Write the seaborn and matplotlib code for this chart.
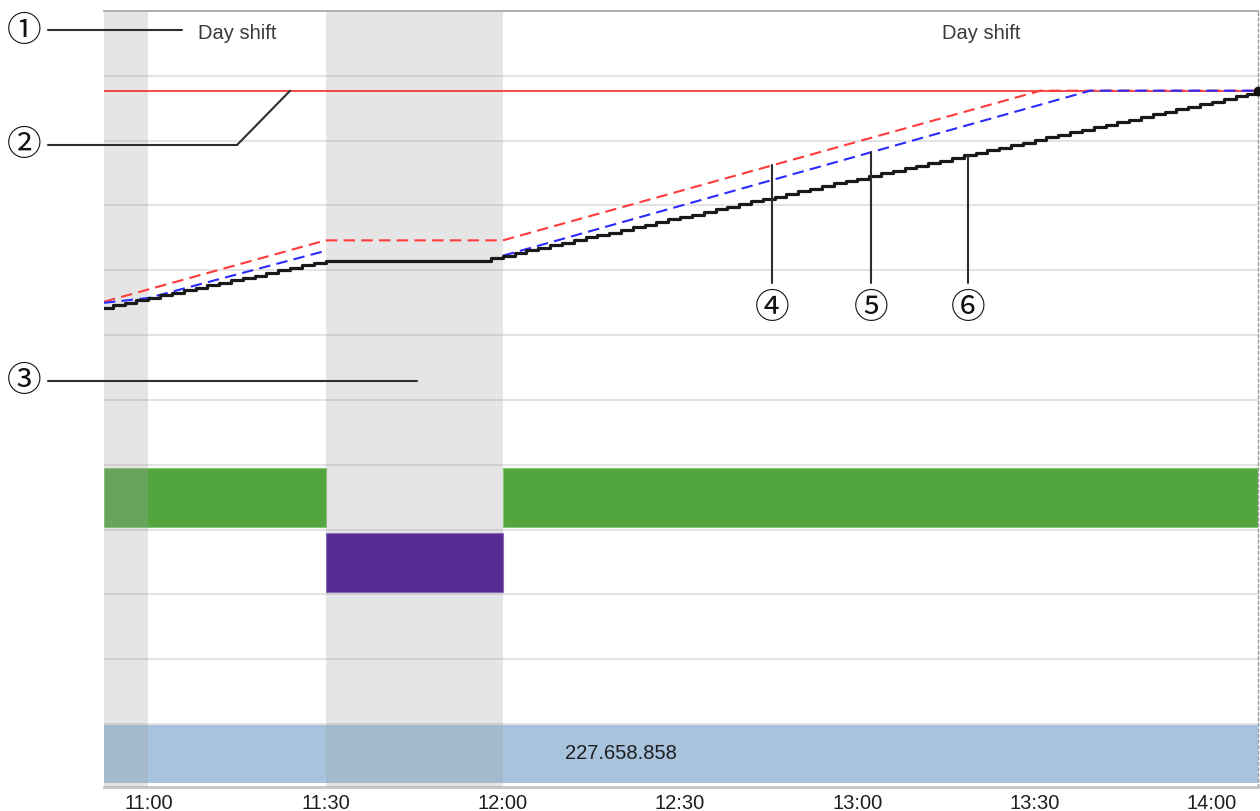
import numpy as np
import pandas as pd
import matplotlib
matplotlib.use("Agg")
import matplotlib.pyplot as plt
import matplotlib.dates as mdates
from matplotlib.lines import Line2D
import seaborn as sns

sns.set_theme(style="white")
plt.rcParams["font.family"] = ["Liberation Sans", "DejaVu Sans"]

DAY = "2024-01-01 "


def t(hms):
    return mdates.date2num(pd.Timestamp(DAY + hms))


# ---- data -------------------------------------------------------------
view_start, view_end = "10:52:30", "14:07:48"

shift_labels = ["Day shift", "Day shift"]
shift_label_times = ["11:15", "13:21"]

break_windows = [("10:52:30", "11:00"), ("11:30", "12:00")]
running_periods = [("10:52:30", "11:30"), ("12:00", "14:07:48")]
stop_periods = [("11:30", "12:00")]

counter_text = "227.658.858"
counter_text_time = "12:20"

target_value = 100.0

# cumulative quantity (% of target), sampled every 2 minutes
actual_values = [
    42.0, 42.6, 43.3, 44.0, 44.6, 45.3, 46.0, 46.6, 47.3, 48.0,
    48.6, 49.3, 50.0, 50.6, 51.3, 52.0, 52.6, 53.3, 54.0, 54.6,
    54.6, 54.6, 54.6, 54.6, 54.6, 54.6, 54.6, 54.6, 54.6, 54.6,
    54.6, 54.6, 54.6, 55.2,
    55.9, 56.6, 57.3, 58.0, 58.7, 59.4, 60.1, 60.8, 61.4, 62.1,
    62.8, 63.5, 64.2, 64.9, 65.6, 66.2, 66.9, 67.6, 68.3, 69.0,
    69.7, 70.4, 71.0, 71.7, 72.4, 73.1, 73.8, 74.5, 75.2, 75.8,
    76.5, 77.2, 77.9, 78.6, 79.3, 80.0, 80.6, 81.3, 82.0, 82.7,
    83.4, 84.1, 84.8, 85.4, 86.1, 86.8, 87.5, 88.2, 88.9, 89.6,
    90.2, 90.9, 91.6, 92.3, 93.0, 93.7, 94.4, 95.0, 95.7, 96.4,
    97.1, 97.8, 98.5, 99.2,
]
actual_first_time = "10:52"
actual_end_time = "14:07:45"
actual_end_value = 100.0

plan_times = ["10:52:30", "11:30", "12:00", "13:31", "14:07:48"]
plan_values = [43.6, 60.0, 60.0, 100.0, 100.0]

forecast_times_a = ["10:52:30", "11:00", "11:30"]
forecast_values_a = [43.3, 44.6, 57.2]
forecast_times_b = ["12:00", "13:39:24", "14:07:48"]
forecast_values_b = [55.9, 100.0, 100.0]

marker_times = {"④": "12:45:36", "⑤": "13:02:20", "⑥": "13:18:45"}

# ---- derived tables ---------------------------------------------------
sample_times = pd.date_range(DAY + actual_first_time, periods=len(actual_values), freq="2min")
actual = pd.DataFrame({
    "time": list(mdates.date2num(sample_times)) + [t(actual_end_time)],
    "value": actual_values + [actual_end_value],
})
plan = pd.DataFrame({"time": [t(s) for s in plan_times], "value": plan_values})
forecast = pd.DataFrame({
    "time": [t(s) for s in forecast_times_a + forecast_times_b],
    "value": forecast_values_a + forecast_values_b,
    "segment": ["a"] * len(forecast_times_a) + ["b"] * len(forecast_times_b),
})

# ---- figure -----------------------------------------------------------
W, H = 1260, 811
fig = plt.figure(figsize=(W / 100, H / 100), dpi=100)
ax = fig.add_axes([104 / W, 1 - 787 / H, (1258 - 104) / W, (787 - 11) / H])
ax.set_facecolor("white")
ax.set_xlim(t(view_start), t(view_end))
ax.set_ylim(0.03, 12.0)

# row grid
ax.set_yticks(range(1, 12))
ax.tick_params(axis="y", length=0, labelleft=False)
ax.yaxis.grid(True, color="#e1e1e1", lw=1.3)
ax.xaxis.grid(False)
ax.set_axisbelow(True)

# status rows
for s, e in running_periods:
    ax.barh(4.5, t(e) - t(s), left=t(s), height=0.91, color="#52a53f",
            edgecolor="#86c476", lw=0.8, zorder=2)
for s, e in stop_periods:
    ax.barh(3.5, t(e) - t(s), left=t(s), height=0.91, color="#582c92",
            edgecolor="#8a6bb5", lw=0.8, zorder=5)
ax.barh(0.54, t(view_end) - t(view_start), left=t(view_start), height=0.9,
        color="#a7c3de", lw=0, zorder=2)
ax.text(t(counter_text_time), 0.54, counter_text, ha="center", va="center",
        fontsize=14.5, color="#1e1e1e", zorder=6)

# break / shift-gap overlays
for s, e in break_windows:
    ax.axvspan(t(s), t(e), color="#a2a2a2", alpha=0.28, lw=0, zorder=3)

# shift labels
for lbl, tm in zip(shift_labels, shift_label_times):
    ax.text(t(tm), 11.57, lbl, ha="center", va="baseline", fontsize=14.5,
            color="#3a3a3a", zorder=6)

# x axis
ax.xaxis.set_major_locator(mdates.MinuteLocator(byminute=[0, 30]))
ax.xaxis.set_minor_locator(mdates.MinuteLocator(byminute=[15, 45]))
ax.xaxis.set_major_formatter(mdates.DateFormatter("%H:%M"))
ax.tick_params(axis="x", which="both", direction="out", length=4, width=1,
               color="#a0a0a0", labelsize=14.5, labelcolor="#1e1e1e", pad=1)
ax.tick_params(axis="x", which="minor", length=4)

ax.spines["left"].set_visible(False)
ax.spines["top"].set_color("#a8a8a8")
ax.spines["top"].set_linewidth(1.3)
ax.spines["right"].set_color("#9a9a9a")
ax.spines["right"].set_linestyle((0, (2, 2)))
ax.spines["right"].set_linewidth(1.0)
ax.spines["bottom"].set_color("#c4c4c4")
ax.spines["bottom"].set_linewidth(2.0)

# ---- cumulative lines on a value axis ----------------------------------
ax2 = ax.twinx()
ax2.set_ylim(-86.1, 121.3)
ax2.patch.set_visible(False)
for sp in ax2.spines.values():
    sp.set_visible(False)
ax2.set_yticks([])
ax2.grid(False)

ax2.axhline(target_value, color="#ee1c1c", lw=1.1, zorder=2)
sns.lineplot(data=plan, x="time", y="value", ax=ax2, color="#ff3b3b",
             lw=1.5, linestyle=(0, (5.5, 3.0)), zorder=3)
sns.lineplot(data=forecast, x="time", y="value", units="segment", estimator=None,
             ax=ax2, color="#2b2bff", lw=1.5, linestyle=(0, (5.5, 3.0)), zorder=4)
sns.lineplot(data=actual, x="time", y="value", ax=ax2, color="#1a1a1a",
             lw=2.3, drawstyle="steps-post", zorder=5)
ax2.plot(actual["time"].iloc[-1], actual["value"].iloc[-1], "o", color="#111111",
         ms=6, clip_on=False, zorder=6)
ax2.set_xlabel("")
ax2.set_ylabel("")
ax.set_xlabel("")
ax.set_ylabel("")
ax2.set_xlim(t(view_start), t(view_end))

# ---- callouts ----------------------------------------------------------
circ_font = ["Noto Sans CJK JP", "DejaVu Sans"]
lead_kw = dict(color="#2e2e2e", lw=1.5)
circ_size = 25


def actual_at(tm):
    idx = np.searchsorted(actual["time"].values, tm, side="right") - 1
    return actual["value"].values[idx]


seg_b = forecast[forecast.segment == "b"]
tops = {
    "④": np.interp(t(marker_times["④"]), plan["time"], plan["value"]),
    "⑤": np.interp(t(marker_times["⑤"]), seg_b["time"], seg_b["value"]),
    "⑥": actual_at(t(marker_times["⑥"])),
}
for sym, tm in marker_times.items():
    x = t(tm)
    ax2.plot([x, x], [tops[sym], 48.5], zorder=6, **lead_kw)
    ax2.text(x, 41.8, sym, ha="center", va="center", fontsize=circ_size,
             family=circ_font, color="#111111", zorder=6)


def fx(px):
    return px / W


def fy(py):
    return 1 - py / H


for sym, py in [("①", 31), ("②", 145), ("③", 381)]:
    fig.text(fx(24), fy(py), sym, ha="center", va="center", fontsize=circ_size,
             family=circ_font, color="#111111")

fig.add_artist(Line2D([fx(48), fx(182)], [fy(30), fy(30)], **lead_kw))
fig.add_artist(Line2D([fx(48), fx(237)], [fy(145), fy(145)], **lead_kw))
ax2.annotate("", xy=(t("11:24"), target_value), xycoords="data",
             xytext=(fx(237), fy(145)), textcoords="figure fraction",
             arrowprops=dict(arrowstyle="-", color="#2e2e2e", lw=1.5,
                             shrinkA=0, shrinkB=0))
fig.add_artist(Line2D([fx(48), fx(417)], [fy(381), fy(381)], **lead_kw))

fig.savefig("out.png", dpi=100)
